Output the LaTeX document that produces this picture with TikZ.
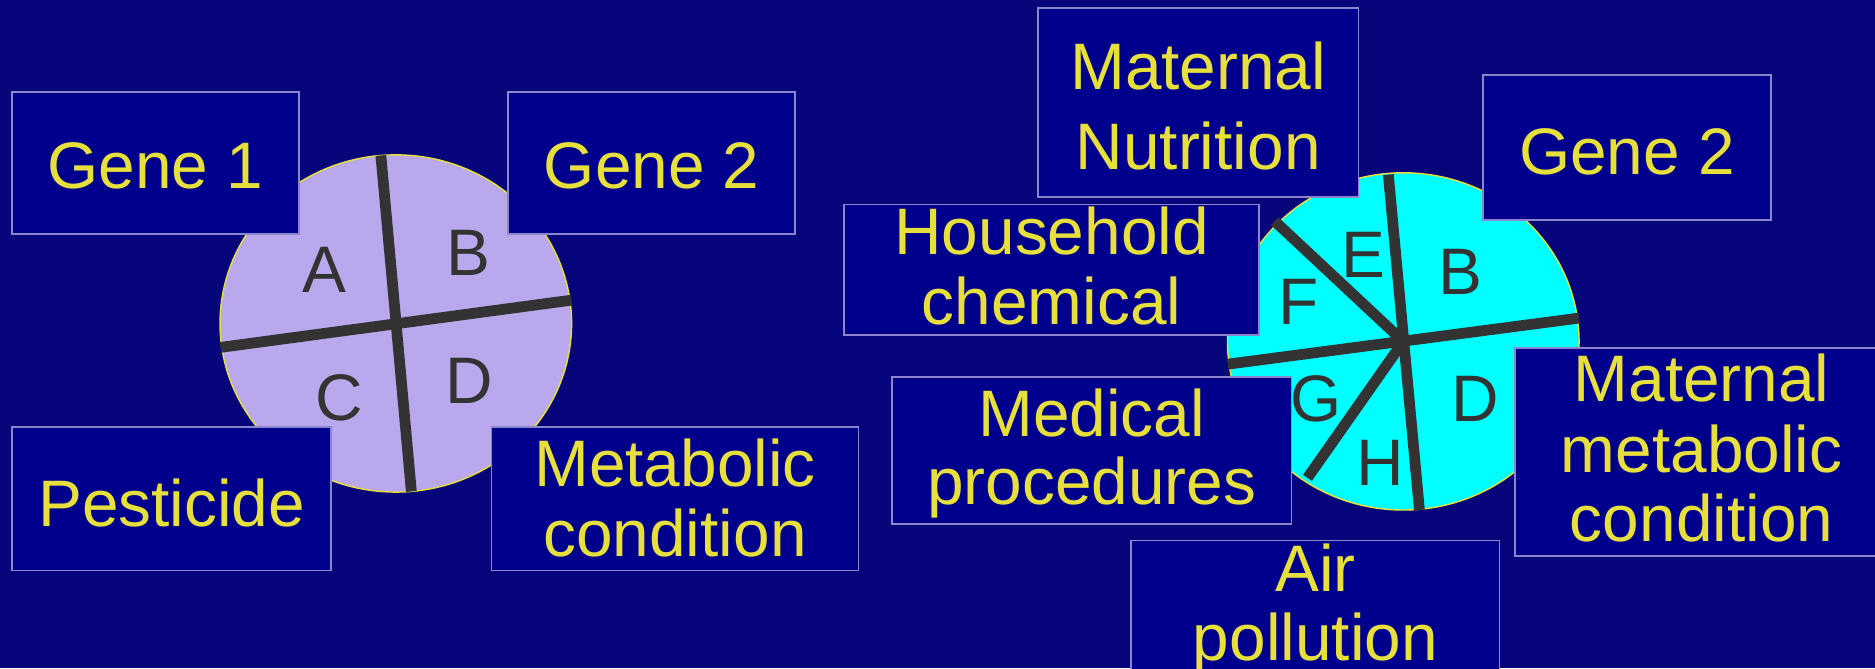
\documentclass[tikz,border=0pt]{standalone}
\usepackage{fontspec}
\setmainfont{Liberation Sans}
\definecolor{bgnavy}{RGB}{6,6,122}
\definecolor{boxfill}{RGB}{0,0,140}
\definecolor{boxborder}{RGB}{140,132,204}
\definecolor{txtyellow}{RGB}{230,223,60}
\definecolor{lavender}{RGB}{185,168,236}
\definecolor{cyanfill}{RGB}{0,255,255}
\definecolor{divgray}{RGB}{51,51,51}
\tikzset{
  factorbox/.style={draw=boxborder, fill=boxfill, line width=1.5pt, inner sep=0pt},
  boxline/.style={anchor=base, inner sep=0pt, text=txtyellow, font=\fontsize{55}{60}\selectfont},
  sector/.style={anchor=base, inner sep=0pt, text=divgray, font=\fontsize{55}{60}\selectfont},
  disc/.style={draw=txtyellow, line width=1.2pt},
  divider/.style={draw=divgray, line width=9pt, line cap=butt}
}
\begin{document}
\begin{tikzpicture}[x=1pt,y=-1pt]
\useasboundingbox (0,0) rectangle (1568,559);
\clip (0,0) rectangle (1568,559);
\fill[bgnavy] (0,0) rectangle (1568,559);

% ---------- left disc ----------
\coordinate (lc) at (331,270.5);
\path[disc, fill=lavender] (lc) ellipse [x radius=147, y radius=141];
\coordinate (lv1) at (318.5,130);
\coordinate (lv2) at (344,411);
\coordinate (lh1) at (184.5,290.5);
\coordinate (lh2) at (478,251);
\draw[divider] (lv1) -- (lv2);
\draw[divider] (lh1) -- (lh2);
\node[sector] (sA) at (271.4,244.5) {A};
\node[sector] (sB) at (392,230.8) {B};
\node[sector] (sC) at (284,352) {C};
\node[sector] (sD) at (392,337.3) {D};

% ---------- right disc ----------
\coordinate (rc) at (1173.5,285.5);
\path[disc, fill=cyanfill] (rc) ellipse [x radius=147, y radius=141];
\coordinate (rv1) at (1161,146);
\coordinate (rv2) at (1187,426.5);
\coordinate (rh1) at (1027,304.5);
\coordinate (rh2) at (1320.5,266);
\coordinate (ref) at (1066,185);
\coordinate (rgh) at (1093.4,399.6);
\draw[divider] (rv1) -- (rv2);
\draw[divider] (rh1) -- (rh2);
\draw[divider] (ref) -- (rc);
\draw[divider] (rc) -- (rgh);
\node[sector] (sE) at (1140,232) {E};
\node[sector] (sF) at (1086,271.6) {F};
\node[sector] (sB2) at (1221,246.6) {B};
\node[sector] (sG) at (1100.5,352.5) {G};
\node[sector] (sD2) at (1234,352.5) {D};
\node[sector] (sH) at (1154,406) {H};

% ---------- left boxes ----------
\node[factorbox, minimum width=240pt, minimum height=119pt] (gene1) at (130,136.5) {};
\node[boxline] at (130,158) {Gene 1};
\node[factorbox, minimum width=240pt, minimum height=119pt] (gene2l) at (545,136.5) {};
\node[boxline] at (545,158) {Gene 2};
\node[factorbox, minimum width=267pt, minimum height=120pt] (pest) at (143.5,417) {};
\node[boxline] at (143.5,440) {Pesticide};
\node[factorbox, minimum width=307pt, minimum height=120pt] (metab) at (564.5,417) {};
\node[boxline] at (564.5,407) {Metabolic};
\node[boxline] at (564.5,465) {condition};

% ---------- right boxes ----------
\node[factorbox, minimum width=268pt, minimum height=158pt] (matnut) at (1002,86) {};
\node[boxline] at (1002,75) {Maternal};
\node[boxline] at (1002,142) {Nutrition};
\node[factorbox, minimum width=241pt, minimum height=121pt] (gene2r) at (1360.5,123.5) {};
\node[boxline] at (1360.5,146) {Gene 2};
\node[factorbox, minimum width=347pt, minimum height=109pt] (house) at (879.5,225.5) {};
\node[boxline] at (879.5,213) {Household};
\node[boxline] at (879.5,271.5) {chemical};
\node[factorbox, minimum width=334pt, minimum height=123pt] (medic) at (913,376.5) {};
\node[boxline] at (913,365) {Medical};
\node[boxline] at (913,422) {procedures};
\node[factorbox, minimum width=312pt, minimum height=174pt] (matmet) at (1423,378) {};
\node[boxline] at (1423,336) {Maternal};
\node[boxline] at (1423,395) {metabolic};
\node[boxline] at (1423,453) {condition};
\node[factorbox, minimum width=308pt, minimum height=148pt] (air) at (1100,526) {};
\node[boxline] at (1100,495) {Air};
\node[boxline] at (1100,552) {pollution};
\end{tikzpicture}
\end{document}
